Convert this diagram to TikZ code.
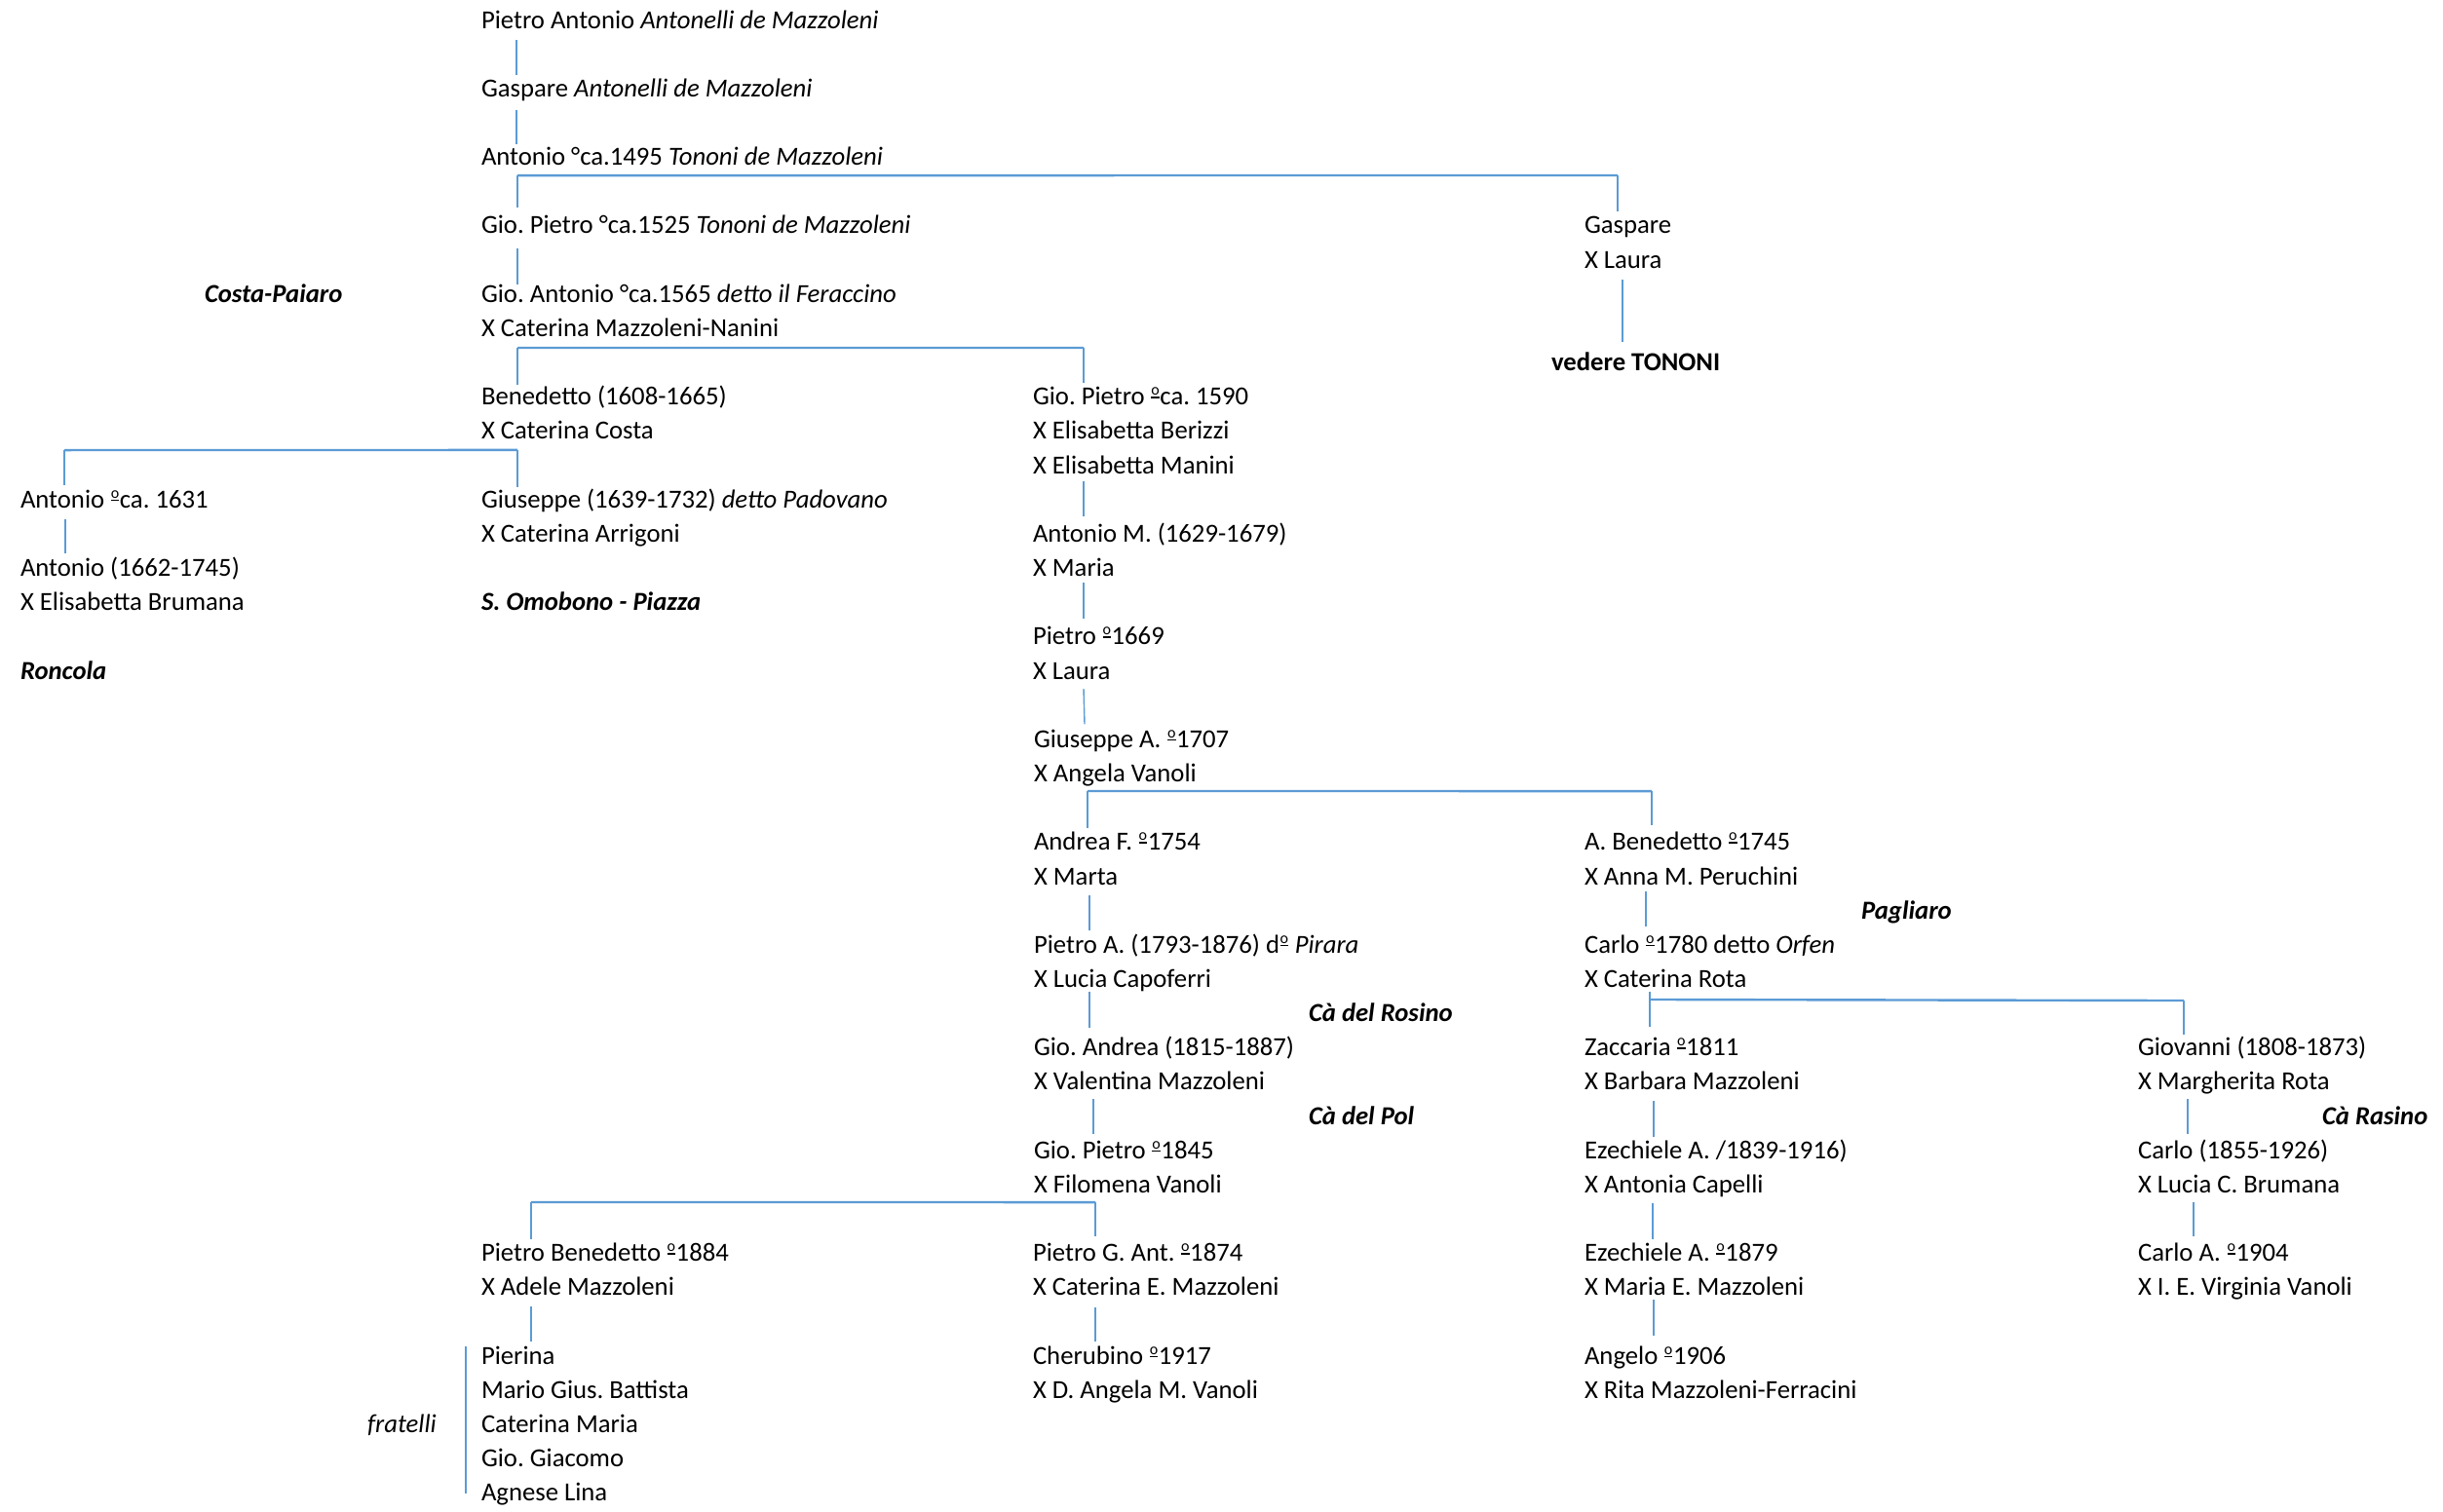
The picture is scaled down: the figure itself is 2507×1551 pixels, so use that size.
\documentclass[tikz,border=0pt]{standalone}
\usepackage{fontspec}
\setmainfont{Carlito}
\frenchspacing
\definecolor{lineblue}{RGB}{91,155,213}
\tikzset{
  vl/.style={draw=lineblue, line width=1.4pt},
  hb/.style={draw=lineblue, line width=2.4pt},
  person/.style={inner sep=0pt, outer sep=0pt, anchor=base west, font=\fontsize{26.7}{32}\selectfont},
  place/.style={person, font=\fontsize{26.7}{32}\selectfont\bfseries\itshape}
}
\newcommand\ordm{\kern0.6pt\raisebox{0.27em}{\vbox{\hbox{\fontsize{16}{16}\selectfont o}\kern1.2pt\hrule height 1.4pt}}\kern0.6pt}
\newcommand\vlk[5]{\draw[vl] ([shift={(#3,-#4)}]#1.base west) -- ([shift={(#3,#5)}]#2.base west);}
\newcommand\R[1]{{-(29+35.16*#1)}}
\begin{document}
\frenchspacing
\begin{tikzpicture}[x=1pt,y=1pt]
\useasboundingbox (0,0) rectangle (2507,-1551);
% column B
\node[person] (b0) at (494,\R{0}) {Pietro Antonio \textit{Antonelli de Mazzoleni}};
\node[person] (b2) at (494,\R{2}) {Gaspare \textit{Antonelli de Mazzoleni}};
\node[person] (b4) at (494,\R{4}) {Antonio °ca.1495 \textit{Tononi de Mazzoleni}};
\node[person] (b6) at (494,\R{6}) {Gio. Pietro °ca.1525 \textit{Tononi de Mazzoleni}};
\node[person] (b8) at (494,\R{8}) {Gio. Antonio °ca.1565 \textit{detto il Feraccino}};
\node[person] (b9) at (494,\R{9}) {X Caterina Mazzoleni-Nanini};
\node[person] (b11) at (494,\R{11}) {Benedetto (1608-1665)};
\node[person] (b12) at (494,\R{12}) {X Caterina Costa};
\node[person] (b14) at (494,\R{14}) {Giuseppe (1639-1732) \textit{detto Padovano}};
\node[person] (b15) at (494,\R{15}) {X Caterina Arrigoni};
\node[place] (b17) at (494,\R{17}) {S. Omobono - Piazza};
\node[person] (b36) at (494,\R{36}) {Pietro Benedetto \ordm1884};
\node[person] (b37) at (494,\R{37}) {X Adele Mazzoleni};
\node[person] (b39) at (494,\R{39}) {Pierina};
\node[person] (b40) at (494,\R{40}) {Mario Gius. Battista};
\node[person] (b41) at (494,\R{41}) {Caterina Maria};
\node[person] (b42) at (494,\R{42}) {Gio. Giacomo};
\node[person] (b43) at (494,\R{43}) {Agnese Lina};
\node[person, font=\fontsize{26.7}{32}\selectfont\itshape] (frat) at (377,\R{41}) {fratelli};
% column A
\node[place] (cp) at (210,\R{8}) {Costa-Paiaro};
\node[person] (a14) at (21,\R{14}) {Antonio \ordm ca. 1631};
\node[person] (a16) at (21,\R{16}) {Antonio (1662-1745)};
\node[person] (a17) at (21,\R{17}) {X Elisabetta Brumana};
\node[place] (a19) at (21,\R{19}) {Roncola};
% Gaspare branch
\node[person] (g6) at (1626,\R{6}) {Gaspare};
\node[person] (g7) at (1626,\R{7}) {X Laura};
\node[person, font=\fontsize{26.7}{32}\selectfont\bfseries] (ved) at (1592,\R{10}) {vedere TONONI};
% column C
\node[person] (c11) at (1060,\R{11}) {Gio. Pietro \ordm ca. 1590};
\node[person] (c12) at (1060,\R{12}) {X Elisabetta Berizzi};
\node[person] (c13) at (1060,\R{13}) {X Elisabetta Manini};
\node[person] (c15) at (1060,\R{15}) {Antonio M. (1629-1679)};
\node[person] (c16) at (1060,\R{16}) {X Maria};
\node[person] (c18) at (1060,\R{18}) {Pietro \ordm1669};
\node[person] (c19) at (1060,\R{19}) {X Laura};
\node[person] (c21) at (1061,\R{21}) {Giuseppe A. \ordm1707};
\node[person] (c22) at (1061,\R{22}) {X Angela Vanoli};
\node[person] (c24) at (1061,\R{24}) {Andrea F. \ordm1754};
\node[person] (c25) at (1061,\R{25}) {X Marta};
\node[person] (c27) at (1061,\R{27}) {Pietro A. (1793-1876) d\ordm{} \textit{Pirara}};
\node[person] (c28) at (1061,\R{28}) {X Lucia Capoferri};
\node[place] (rosino) at (1343,\R{29}) {Cà del Rosino};
\node[person] (c30) at (1061,\R{30}) {Gio. Andrea (1815-1887)};
\node[person] (c31) at (1061,\R{31}) {X Valentina Mazzoleni};
\node[place] (pol) at (1343,\R{32}) {Cà del Pol};
\node[person] (c33) at (1061,\R{33}) {Gio. Pietro \ordm1845};
\node[person] (c34) at (1061,\R{34}) {X Filomena Vanoli};
\node[person] (c36) at (1060,\R{36}) {Pietro G. Ant. \ordm1874};
\node[person] (c37) at (1060,\R{37}) {X Caterina E. Mazzoleni};
\node[person] (c39) at (1060,\R{39}) {Cherubino \ordm1917};
\node[person] (c40) at (1060,\R{40}) {X D. Angela M. Vanoli};
% column D
\node[person] (d24) at (1626,\R{24}) {A. Benedetto \ordm1745};
\node[person] (d25) at (1626,\R{25}) {X Anna M. Peruchini};
\node[place] (pagl) at (1910,\R{26}) {Pagliaro};
\node[person] (d27) at (1626,\R{27}) {Carlo \ordm1780 detto \textit{Orfen}};
\node[person] (d28) at (1626,\R{28}) {X Caterina Rota};
\node[person] (d30) at (1626,\R{30}) {Zaccaria \ordm1811};
\node[person] (d31) at (1626,\R{31}) {X Barbara Mazzoleni};
\node[person] (d33) at (1626,\R{33}) {Ezechiele A. /1839-1916)};
\node[person] (d34) at (1626,\R{34}) {X Antonia Capelli};
\node[person] (d36) at (1626,\R{36}) {Ezechiele A. \ordm1879};
\node[person] (d37) at (1626,\R{37}) {X Maria E. Mazzoleni};
\node[person] (d39) at (1626,\R{39}) {Angelo \ordm1906};
\node[person] (d40) at (1626,\R{40}) {X Rita Mazzoleni-Ferracini};
% column E
\node[person] (e30) at (2194,\R{30}) {Giovanni (1808-1873)};
\node[person] (e31) at (2194,\R{31}) {X Margherita Rota};
\node[place] (rasino) at (2383,\R{32}) {Cà Rasino};
\node[person] (e33) at (2194,\R{33}) {Carlo (1855-1926)};
\node[person] (e34) at (2194,\R{34}) {X Lucia C. Brumana};
\node[person] (e36) at (2194,\R{36}) {Carlo A. \ordm1904};
\node[person] (e37) at (2194,\R{37}) {X I. E. Virginia Vanoli};

% ---- connectors ----
\vlk{b0}{b2}{36}{12}{22}
\vlk{b2}{b4}{36}{13.5}{21.5}
% Antonio -> Gio. Pietro / Gaspare
\coordinate (j4) at ([shift={(37,-10.5)}]b4.base west);
\draw[hb] (j4) -- ([shift={(34,60)}]g6.base west);
\draw[vl] (j4) -- ([shift={(37,27)}]b6.base west);
\draw[vl] ([shift={(34,60)}]g6.base west) -- ([shift={(34,23)}]g6.base west);
\vlk{b6}{b8}{37}{15}{18}
% Gio. Antonio -> Benedetto / Gio. Pietro
\coordinate (j9) at ([shift={(37,-11.6)}]b9.base west);
\draw[hb] (j9) -- ([shift={(52,58.8)}]c11.base west);
\draw[vl] (j9) -- ([shift={(37,21)}]b11.base west);
\draw[vl] ([shift={(52,58.8)}]c11.base west) -- ([shift={(52,23)}]c11.base west);
% Gaspare -> vedere TONONI
\draw[vl] ([shift={(39,-12)}]g7.base west) -- ([shift={(73,30)}]ved.base west);
% Benedetto -> Antonio / Giuseppe
\coordinate (j12) at ([shift={(37,-11)}]b12.base west);
\draw[hb] (j12) -- ([shift={(45,59.2)}]a14.base west);
\draw[vl] (j12) -- ([shift={(37,21)}]b14.base west);
\draw[vl] ([shift={(45,59.2)}]a14.base west) -- ([shift={(45,23)}]a14.base west);
\vlk{a14}{a16}{46}{12}{23.6}
% column C chain
\vlk{c13}{c15}{52}{8}{26}
\vlk{c16}{c18}{52}{6.5}{27}
\vlk{c19}{c21}{52}{10}{24}
% Giuseppe A. -> Andrea F. / A. Benedetto
\coordinate (j22) at ([shift={(55,-9.5)}]c22.base west);
\draw[hb] (j22) -- ([shift={(69,60.8)}]d24.base west);
\draw[vl] (j22) -- ([shift={(55,23)}]c24.base west);
\draw[vl] ([shift={(69,60.8)}]d24.base west) -- ([shift={(69,26)}]d24.base west);
\vlk{c25}{c27}{57}{11}{23}
\vlk{d25}{d27}{63}{7}{27}
\vlk{c28}{c30}{57}{4.5}{29}
% Carlo -> Zaccaria / Giovanni
\vlk{d28}{d30}{67}{4.5}{30}
\draw[hb] ([shift={(67,-12.5)}]d28.base west) -- ([shift={(47,56.8)}]e30.base west);
\draw[vl] ([shift={(47,56.8)}]e30.base west) -- ([shift={(47,22)}]e30.base west);
\vlk{c31}{c33}{61}{9}{25}
\vlk{d31}{d33}{71}{11}{22}
\vlk{e31}{e33}{51}{9}{25}
% Gio. Pietro -> Pietro Benedetto / Pietro G. Ant.
\coordinate (j34) at ([shift={(63,-9.6)}]c34.base west);
\draw[hb] (j34) -- ([shift={(51,60.8)}]b36.base west);
\draw[vl] (j34) -- ([shift={(64,26)}]c36.base west);
\draw[vl] ([shift={(51,60.8)}]b36.base west) -- ([shift={(51,23)}]b36.base west);
\vlk{d34}{d36}{70}{10.6}{23}
\vlk{e34}{e36}{57}{9.6}{26}
\vlk{b37}{b39}{51}{11}{23}
\vlk{c37}{c39}{64}{12}{23}
\vlk{d37}{d39}{71}{4}{29}
% fratelli bracket
\draw[vl] ([shift={(-16,18)}]b39.base west) -- ([shift={(-16,8)}]b43.base west);
\end{tikzpicture}
\end{document}
